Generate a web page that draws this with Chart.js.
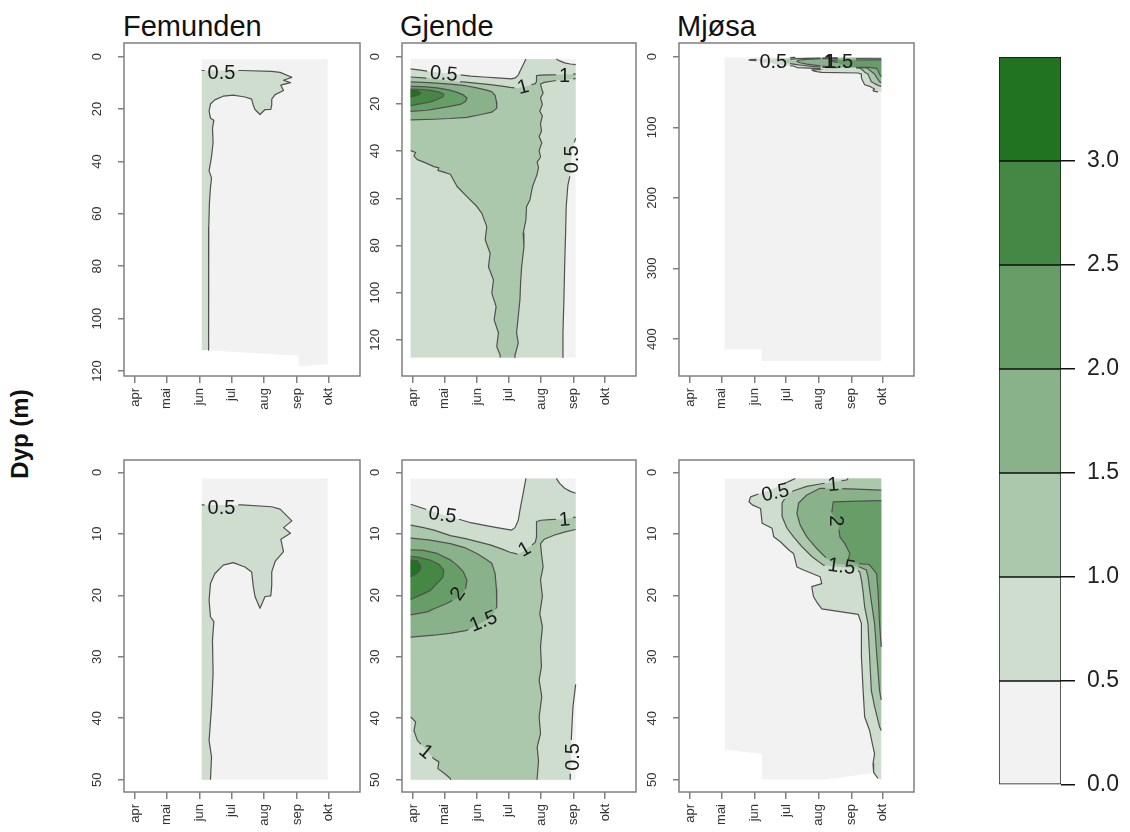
<!DOCTYPE html>
<html>
<head>
<meta charset="utf-8">
<script src="https://cdn.jsdelivr.net/npm/chart.js@4.4.1/dist/chart.umd.min.js"></script>
<style>
  body { margin: 0; width: 1130px; height: 832px; overflow: hidden; background: #fff; position: relative;
         font-family: "Liberation Sans", Arial, sans-serif; }
  canvas { position: absolute; }
  .title { position: absolute; top: 12px; font-size: 29px; line-height: 29px; color: #111; }
  #ylab { position: absolute; left: 20px; top: 434px; font-size: 24px; line-height: 24px; font-weight: bold;
          color: #111; white-space: nowrap; transform: translate(-50%, -50%) rotate(-90deg); }
</style>
</head>
<body>
<div class="title" style="left:123px">Femunden</div>
<div class="title" style="left:400px">Gjende</div>
<div class="title" style="left:677px">Mjøsa</div>
<div id="ylab">Dyp (m)</div>

<script>
const FONT = '"Liberation Sans", Arial, sans-serif';

// x = dager etter 1. april
const monthTicks = [0, 30, 61, 91, 122, 153, 183];
const monthLabels = ['apr', 'mai', 'jun', 'jul', 'aug', 'sep', 'okt'];

const levelColors = ['#f2f2f2', '#cfddcf', '#acc8ac', '#8ab28a', '#679d67', '#448844', '#217321'];
const legendBreaks = [0, 0.5, 1.0, 1.5, 2.0, 2.5, 3.0, 3.5];
const legendTicks = [0, 0.5, 1.0, 1.5, 2.0, 2.5, 3.0];

const ticksFemTop = [0, 20, 40, 60, 80, 100, 120];
const ticksGjTop = [0, 20, 40, 60, 80, 100, 120];
const ticksMjTop = [0, 100, 200, 300, 400];
const ticksBottom = [0, 10, 20, 30, 40, 50];

// ---- Femunden ----
const femDomainTop = [[63,1],[182,1],[182,117.3],[154.4,118.3],[154.4,114.2],[63,112]];
const femDomainBottom = [[63,1],[182,1],[182,50],[63,50]];
const femLine05 = [[63,5.3],[82,5.3],[100.6,5.3],[129.1,5.6],[137,6.0],[148.1,7.9],[140.2,9.0],[146.8,9.9],
  [137.7,10.9],[140.2,12.9],[132.3,14.5],[129.1,16.2],[129.1,18.4],[128.2,20.1],[122.8,20.2],[118,22.1],
  [113.3,20.2],[111.7,18.6],[110.1,16.2],[103.8,15.4],[92.7,14.7],[83.2,15.1],[75.3,16.5],[71.2,18.1],
  [69.9,20.8],[71.2,23.5],[74.4,24.3],[73.1,27.3],[73.7,32.7],[72.2,38.2],[69.9,43.6],[72.2,46.3],[71.2,50],
  [70.2,56],[69.6,65],[69.3,80],[69.8,88],[69.6,93],[69.0,105.6],[69.6,112]];
const femFills = [[1, [...femLine05, [63,112]]]];
const femLines = [femLine05];
const femTopLabels = [['0.5', 81.6, 6.5, 0]];
const femBottomLabels = [['0.5', 81.6, 5.9, 0]];

// ---- Gjende ----
const gjDomainTop = [[-2.2,1],[155,1],[155,127.5],[-2.2,127.5]];
const gjDomainBottom = [[-2.2,1],[155,1],[155,50],[-2.2,50]];
const gj05a = [[-2.2,5.2],[5,5.6],[13.6,6.1],[28,6.9],[43,7.6],[55,8.2],[67.2,8.6],[80,9.0],[94,9.4],
  [97.2,9.0],[100.3,7.8],[102.5,5.6],[105,3.4],[107.6,1]];
const gj05b = [[136.6,1],[139.7,1.8],[144.5,2.6],[150,3.1],[155,3.4]];
const gj05c = [[155,34.5],[152.4,38.2],[150.8,43.6],[150.3,47],[149.8,50],[147.6,54.4],[146,63.5],[145.4,74.8],
  [144.5,89],[143.8,103],[142.9,117],[142.9,127.5]];
const gj10a = [[-2.2,8.6],[10,9.0],[20,9.4],[35.6,10.3],[50,10.8],[73.5,11.8],[85,12.5],[92.4,13.0],[100,13.3],
  [106,12.8],[112,12.0],[116.5,11.4],[117.7,10.5],[117.7,8.0],[122,7.8],[130,7.7],[144,7.6],[155,7.3]];
const gj10b = [[155,9.3],[145,9.7],[135,10.2],[125,10.9],[121.5,11.6],[122.4,13.2],[124,15.4],[121.5,17.5],
  [123.3,20.2],[120.8,23],[123.3,25.1],[121.5,28.4],[122.4,31.6],[120.2,33.8],[122.7,36.5],[120.2,39.8],
  [121.5,42.5],[118.3,44.7],[119.6,46.9],[118.3,49.8],[116,52.5],[113.9,55],[111.4,60.7],[108.2,63.5],
  [107.6,69.2],[105,74.8],[105.7,80.5],[103.5,89],[102.5,96],[101.9,103],[100.3,110],[98.7,117],
  [100.3,121.4],[97.2,126.4],[97.2,127.5]];
const gj10c = [[83,127.5],[83,126.4],[79.8,122.8],[81.4,117],[77.3,111.5],[79.2,105.9],[75.1,100.2],[76.7,94.6],
  [71.9,89],[73.5,83.3],[68.8,77.6],[70.3,72],[65.6,66.4],[60.9,63.5],[51.4,59.3],[42,55],[35.6,49.8],
  [30,49],[23.7,48.2],[24.6,47.1],[19.9,46.6],[12,45],[4.1,43.6],[0.9,42],[2.5,40.6],[-2.2,39.8]];
const gj15 = [[-2.2,10.7],[15,11.0],[35.6,11.6],[50,12.3],[60.9,13.2],[70,14.2],[75,14.8],[78.2,16.4],
  [79.5,19],[79.8,21.9],[75,23.5],[65,24.5],[51.4,25.7],[35,26.2],[19.9,26.5],[-2.2,26.8]];
const gj20 = [[-2.2,12.6],[10,12.7],[23,13.2],[35,14.2],[42,15.1],[48,16.2],[51.4,17.5],[50,19],[45,20.2],
  [32.5,21.3],[20,22.2],[13.6,22.7],[-2.2,23.2]];
const gj25 = [[-2.2,13.7],[5,13.8],[16.7,14.3],[25,15.0],[29.3,15.9],[28.5,17],[26.2,17.5],[20,18.6],
  [16.7,19.2],[8,19.9],[4.1,20.2],[-2.2,20.7]];
const gj30 = [[-2.2,14.3],[4.1,14.4],[6.5,15],[7.3,15.4],[6.5,16],[4.1,16.4],[-2.2,17.0]];
const gjFills = [
  [1, [...gj05a, ...gj05b, ...gj05c, [-2.2,127.5]]],
  [2, [...gj10a, ...gj10b, ...gj10c]],
  [3, gj15], [4, gj20], [5, gj25], [6, gj30]
];
const gjLines = [gj05a, gj05b, gj05c, gj10a, gj10b, gj10c, gj15, gj20, gj25, gj30];
const gjTopLabels = [['0.5', 29.3, 7.4, 5], ['1', 105, 13, -15], ['1', 144.5, 8.5, 0], ['0.5', 151.7, 43.5, -90]];
const gjBottomLabels = [['0.5', 28, 7.0, 8], ['1', 106.6, 12.6, -30], ['1', 144.5, 7.8, -5], ['2', 43, 19.8, -55],
  ['1.5', 67.2, 24.3, -22], ['1', 12, 45.5, 40], ['0.5', 153, 46.3, -90]];

// ---- Mjøsa ----
const mjDomainTop = [[32.7,1],[181.4,1],[181.4,431],[68.2,431],[68.2,414.6],[32.7,414.6]];
const mjDomainBottom = [[33,1],[181.4,1],[181.4,50],[173.6,48.9],[126.5,50],[68.4,50],[68.4,45.8],[33,45.1]];
const mj05 = [[99.8,1],[95,1.4],[85,2.2],[75,2.9],[66.9,3.4],[57.4,4.0],[55.9,4.8],[59,5.3],[66.9,5.9],
  [68.4,8.3],[77.8,9.1],[79.4,10.5],[85.7,11.3],[93.5,12.6],[98.2,13.2],[101.4,15.4],[107.7,15.9],
  [123.4,17.0],[125,18.1],[115.5,18.6],[117.1,20.2],[120.2,21.1],[125,22.2],[159.5,23.1],[162.6,24.6],
  [162.6,30],[164.2,35.5],[165.7,39.8],[170.4,42],[172.9,44.1],[175.1,45.8],[173.6,47.4],[174.2,48.8],[178.3,49.8]];
const mj10 = [[150,1],[148.5,1.25],[135,1.6],[123.4,1.9],[110.8,2.3],[98.2,3.0],[92,3.7],[87.3,5.0],[87.3,7.2],
  [92,9.1],[98.2,10.5],[106.1,12.1],[115.5,13.7],[126.5,15.1],[142.2,15.4],[156.3,15.6],[161,16.2],
  [162.6,17.5],[164.2,19.5],[165.7,21.9],[168.8,24.6],[170.4,30],[172,35.5],[175.1,38.1],[179.8,41.4],[181.4,42]];
const mj15 = [[181.4,2.9],[151.6,2.7],[123.4,2.6],[110.8,3.7],[103,5.0],[101.4,6.7],[104.5,8.6],[110.8,10.5],
  [120.2,12.4],[129.6,14.0],[135.9,14.8],[150,15.1],[161,15.4],[167.3,15.9],[168.9,17.0],[170.4,19],
  [172,21],[175.1,24.6],[177.3,30],[179.8,35.5],[181.4,37]];
const mj20 = [[181.4,4.6],[160,4.7],[135.9,4.8],[134.3,6.7],[140.6,8.3],[142.2,10.5],[146.9,11.6],[151.6,13.2],
  [150,14.3],[156.3,14.8],[170,15],[177,16.5],[178.3,19.2],[179.8,24.6],[181.4,28.4]];
const mjFills = [
  [1, [...mj05, [181.4,50], [181.4,1]]],
  [2, [...mj10, [181.4,1]]],
  [3, mj15], [4, mj20]
];
const mjLines = [mj05, mj10, mj15, mj20];
const mjTopLabels = [['0.5', 79, 7.5, 0], ['1', 132, 7.5, 0], ['1.5', 141.5, 7.5, 0]];
const mjBottomLabels = [['0.5', 81, 3.4, -12], ['1', 135.9, 2.1, -5], ['2', 138.4, 7.9, 90], ['1.5', 143.7, 15.4, 8]];

const X_RANGE = [-10.5, 212.5];

const panels = [
  {box: [124, 43, 360, 376], y: [-5.2, 121.9], ticks: ticksFemTop, domain: femDomainTop, fills: femFills, lines: femLines, labels: femTopLabels},
  {box: [402, 43, 636, 376], y: [-5.8, 135.3], ticks: ticksGjTop, domain: gjDomainTop, fills: gjFills, lines: gjLines, labels: gjTopLabels},
  {box: [679, 43, 914, 376], y: [-19.4, 452.3], ticks: ticksMjTop, domain: mjDomainTop, fills: mjFills, lines: mjLines, labels: mjTopLabels},
  {box: [124, 460, 360, 792], y: [-2, 52], ticks: ticksBottom, domain: femDomainBottom, fills: femFills, lines: femLines, labels: femBottomLabels, maxDepth: 50},
  {box: [402, 460, 636, 792], y: [-2, 52], ticks: ticksBottom, domain: gjDomainBottom, fills: gjFills, lines: gjLines, labels: gjBottomLabels, maxDepth: 50},
  {box: [679, 460, 914, 792], y: [-2, 52], ticks: ticksBottom, domain: mjDomainBottom, fills: mjFills, lines: mjLines, labels: mjBottomLabels, maxDepth: 50}
];

Chart.defaults.font.family = FONT;

function toXY(pts) {
  return pts.map(p => ({x: p[0], y: p[1]}));
}

function fillSet(pts, color) {
  return {data: toXY(pts), showLine: true, fill: 'shape', backgroundColor: color,
          borderWidth: 0, borderColor: 'transparent', pointRadius: 0, pointHoverRadius: 0, tension: 0};
}

function lineSet(pts) {
  return {data: toXY(pts), showLine: true, fill: false, borderColor: '#505050', borderWidth: 1.2,
          borderJoinStyle: 'round', pointRadius: 0, pointHoverRadius: 0, tension: 0, contour: true};
}

function makeCanvas(left, top, w, h) {
  const c = document.createElement('canvas');
  c.width = w; c.height = h;
  c.style.left = left + 'px'; c.style.top = top + 'px';
  c.style.width = w + 'px'; c.style.height = h + 'px';
  document.body.appendChild(c);
  return c;
}

const LABEL_FONT = '20px ' + FONT;

// tegner konturetiketter, ramme og y-etiketter, og lager hull i linjene under etikettene
function panelPlugin(panel) {
  function labelBoxes(chart) {
    const {ctx, scales: {x, y}} = chart;
    ctx.save();
    ctx.font = LABEL_FONT;
    const boxes = panel.labels.map(([txt, lx, ly, ang]) => ({
      cx: x.getPixelForValue(lx), cy: y.getPixelForValue(ly),
      w: ctx.measureText(txt).width + 6, h: 15, a: ang * Math.PI / 180
    }));
    ctx.restore();
    return boxes;
  }
  return {
    id: 'panel',
    beforeDatasetsDraw(chart) {
      const {ctx, chartArea: a, scales: {y}} = chart;
      ctx.save();
      if (panel.maxDepth != null) {
        ctx.beginPath();
        ctx.rect(a.left, a.top, a.width, y.getPixelForValue(panel.maxDepth) - a.top);
        ctx.clip();
      }
    },
    beforeDatasetDraw(chart, args) {
      if (!chart.data.datasets[args.index].contour) return;
      const ctx = chart.ctx;
      ctx.save();
      ctx.beginPath();
      ctx.rect(0, 0, chart.width, chart.height);
      labelBoxes(chart).forEach(b => {
        const c = Math.cos(b.a), s = Math.sin(b.a);
        [[-b.w / 2, -b.h / 2], [b.w / 2, -b.h / 2], [b.w / 2, b.h / 2], [-b.w / 2, b.h / 2]].forEach(([px, py], i) => {
          const X = b.cx + px * c - py * s, Y = b.cy + px * s + py * c;
          if (i) ctx.lineTo(X, Y); else ctx.moveTo(X, Y);
        });
        ctx.closePath();
      });
      ctx.clip('evenodd');
    },
    afterDatasetDraw(chart, args) {
      if (chart.data.datasets[args.index].contour) chart.ctx.restore();
    },
    afterDatasetsDraw(chart) {
      const {ctx, chartArea: a, scales: {x, y}} = chart;
      ctx.restore();
      ctx.save();
      ctx.font = LABEL_FONT;
      ctx.fillStyle = '#1a1a1a';
      ctx.textAlign = 'center';
      ctx.textBaseline = 'middle';
      panel.labels.forEach(([txt, lx, ly, ang]) => {
        ctx.save();
        ctx.translate(x.getPixelForValue(lx), y.getPixelForValue(ly));
        ctx.rotate(ang * Math.PI / 180);
        ctx.fillText(txt, 0, 0);
        ctx.restore();
      });
      ctx.strokeStyle = '#808080';
      ctx.lineWidth = 1.5;
      ctx.strokeRect(a.left, a.top, a.width, a.height);
      ctx.font = '13px ' + FONT;
      ctx.fillStyle = '#333';
      ctx.textBaseline = 'alphabetic';
      panel.ticks.forEach(v => {
        ctx.save();
        ctx.translate(a.left - 23, y.getPixelForValue(v));
        ctx.rotate(-Math.PI / 2);
        ctx.fillText(String(v), 0, 0);
        ctx.restore();
      });
      ctx.restore();
    }
  };
}

panels.forEach(p => {
  const [x0, y0, x1, y1] = p.box;
  const canvas = makeCanvas(x0 - 50, y0 - 6, x1 - x0 + 56, y1 - y0 + 51);

  const datasets = [fillSet(p.domain, levelColors[0])];
  p.fills.forEach(([lvl, pts]) => datasets.push(fillSet(pts, levelColors[lvl])));
  p.lines.forEach(pts => datasets.push(lineSet(pts)));
  datasets.forEach((d, i) => { d.order = datasets.length - i; });

  new Chart(canvas, {
    type: 'scatter',
    data: {datasets: datasets},
    options: {
      responsive: false,
      animation: false,
      events: [],
      layout: {padding: {left: 0, top: 6, right: 6, bottom: 0}},
      plugins: {legend: {display: false}, tooltip: {enabled: false}},
      scales: {
        x: {
          type: 'linear', min: X_RANGE[0], max: X_RANGE[1],
          afterBuildTicks: s => { s.ticks = monthTicks.map(v => ({value: v})); },
          ticks: {autoSkip: false, minRotation: 90, maxRotation: 90, padding: 5, color: '#333',
                  font: {size: 13}, callback: (v, i) => monthLabels[i]},
          grid: {drawOnChartArea: false, tickLength: 7, color: '#808080', lineWidth: 1.5},
          border: {display: false},
          afterFit: s => { s.height = 45; s.paddingLeft = 0; s.paddingRight = 0; }
        },
        y: {
          type: 'linear', reverse: true, min: p.y[0], max: p.y[1],
          afterBuildTicks: s => { s.ticks = p.ticks.map(v => ({value: v})); },
          ticks: {display: false},
          grid: {drawOnChartArea: false, tickLength: 6, color: '#808080', lineWidth: 1.5},
          border: {display: false},
          afterFit: s => { s.width = 50; s.paddingTop = 0; s.paddingBottom = 0; }
        }
      }
    },
    plugins: [panelPlugin(p)]
  });
});

// fargeskala
const legendCanvas = makeCanvas(990, 47, 140, 753);
new Chart(legendCanvas, {
  type: 'bar',
  data: {
    labels: [''],
    datasets: levelColors.map((c, i) => ({
      data: [[legendBreaks[i], legendBreaks[i + 1]]],
      backgroundColor: c, borderColor: '#111', borderWidth: 1, borderSkipped: false,
      grouped: false, barPercentage: 1, categoryPercentage: 1
    }))
  },
  options: {
    responsive: false,
    animation: false,
    events: [],
    layout: {padding: {left: 9, top: 10, right: 0, bottom: 15}},
    plugins: {legend: {display: false}, tooltip: {enabled: false}},
    scales: {
      x: {display: false},
      y: {
        position: 'right', min: 0, max: 3.5,
        afterBuildTicks: s => { s.ticks = legendTicks.map(v => ({value: v})); },
        ticks: {callback: v => v.toFixed(1), color: '#222', font: {size: 23}, padding: 12},
        grid: {drawOnChartArea: false, tickLength: 14, color: '#111', lineWidth: 1.5},
        border: {display: false},
        afterFit: s => { s.width = 69; s.paddingTop = 0; s.paddingBottom = 0; }
      }
    }
  }
});
</script>
</body>
</html>
